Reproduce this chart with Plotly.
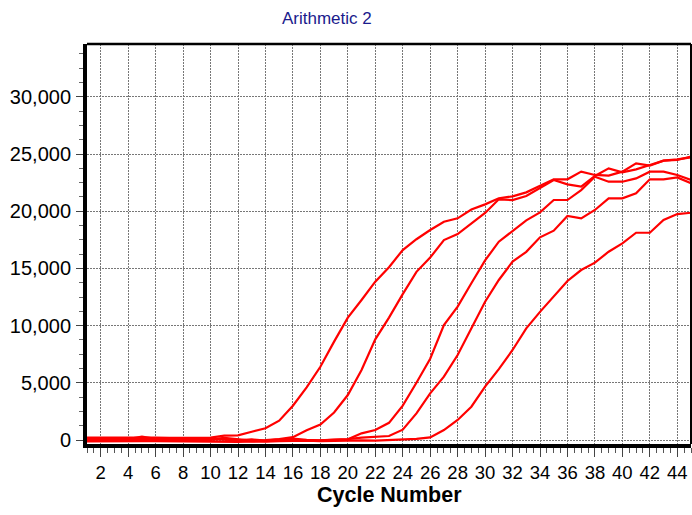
import plotly.graph_objects as go

cycles = list(range(1, 46))

curve_a = [220, 190, 200, 210, 230, 200, 190, 210, 220, 200,
           380, 400, 720, 1020, 1690, 3000, 4600, 6400, 8600, 10700,
           12240, 13840, 15100, 16610, 17550, 18360, 19080, 19380, 20150, 20600,
           21130, 21300, 21650, 22200, 22790, 22790, 23460, 23170, 23110, 23460,
           24190, 23980, 24420, 24480, 24770]
curve_b = [60, 40, 50, 90, 300, 110, 50, 40, 30, 50,
           180, 60, -50, 0, 80, 250, 850, 1350, 2400, 3930,
           6120, 8800, 10700, 12750, 14700, 15950, 17480, 18000, 18940, 19850,
           21040, 20980, 21330, 22000, 22730, 22350, 22150, 23080, 23750, 23400,
           23660, 24040, 24420, 24530, 24710]
curve_c = [-20, 0, 10, -10, 30, 0, -30, -10, 0, 10,
           100, -100, -150, -100, -50, 0, -80, -20, 0, 60,
           580, 870, 1500, 3000, 5000, 7100, 10050, 11660, 13700, 15700,
           17340, 18300, 19200, 19900, 20980, 20980, 21850, 23020, 22580, 22580,
           22870, 23460, 23460, 23170, 22730]
curve_d = [120, 110, 130, 120, 140, 110, 100, 120, 130, 110,
           40, -30, 50, -60, 50, 120, 20, -20, 40, 80,
           200, 250, 350, 900, 2330, 4080, 5540, 7430, 9760, 12090,
           13990, 15590, 16450, 17720, 18300, 19580, 19380, 20110, 21130, 21130,
           21560, 22790, 22790, 22960, 22440]
curve_e = [-130, -110, -120, -100, -90, -110, -120, -100, -110, -130,
           -120, -160, -90, -140, -110, -80, -60, -90, -70, -20,
           -40, -60, 0, 20, 100, 230, 870, 1750, 2910, 4660,
           6200, 7870, 9760, 11200, 12600, 13900, 14860, 15500, 16460, 17190,
           18120, 18120, 19230, 19750, 19870]

series = [curve_a, curve_b, curve_c, curve_d, curve_e]

title_text = "Arithmetic 2"
x_title = "Cycle Number"

FONT = "Liberation Sans, Arial, sans-serif"

fig = go.Figure()
for s in series:
    fig.add_trace(go.Scatter(x=cycles, y=s, mode="lines",
                             line=dict(color="#ff0000", width=2.2),
                             hoverinfo="skip", showlegend=False))

grid_dash = "1.5px,1.5px"
grid_color = "#777777"

fig.update_layout(
    width=692, height=515,
    margin=dict(l=87, r=1, t=44, b=71),
    paper_bgcolor="white", plot_bgcolor="white",
    font=dict(family=FONT, color="black"),
    xaxis=dict(
        range=[1, 45], tickmode="linear", tick0=0, dtick=2,
        ticks="outside", ticklen=9, tickwidth=1, tickcolor="#444",
        tickfont=dict(size=18.5, family=FONT, color="black"),
        showgrid=True, gridcolor=grid_color, gridwidth=1, griddash=grid_dash,
        showline=True, linecolor="black", linewidth=4,
        zeroline=False,
        minor=dict(dtick=0.5, tick0=0, ticks="outside", ticklen=5,
                   tickcolor="#555", tickwidth=1, showgrid=False),
    ),
    yaxis=dict(
        range=[-350, 34620], tickmode="linear", tick0=0, dtick=5000,
        tickformat=",d",
        ticks="outside", ticklen=7, tickwidth=1, tickcolor="#444",
        tickfont=dict(size=20, family=FONT, color="black"),
        ticklabelstandoff=1,
        showgrid=True, gridcolor=grid_color, gridwidth=1, griddash=grid_dash,
        showline=True, linecolor="black", linewidth=4,
        zeroline=False,
        minor=dict(dtick=1250, tick0=0, ticks="outside", ticklen=4,
                   tickcolor="#666", tickwidth=1, showgrid=False),
    ),
    shapes=[
        dict(type="line", xref="paper", yref="paper", x0=0, x1=1, y0=1, y1=1,
             line=dict(color="black", width=2.5)),
        dict(type="line", xref="paper", yref="paper", x0=1, x1=1, y0=0, y1=1,
             line=dict(color="black", width=2)),
    ],
    annotations=[
        dict(text=title_text, xref="paper", yref="paper",
             x=(327 - 87) / 604, y=(444 - 18) / 400,
             xanchor="center", yanchor="middle", showarrow=False,
             font=dict(size=17, color="#1a1a8c", family=FONT)),
        dict(text="<b>" + x_title + "</b>", xref="paper", yref="paper",
             x=0.5, y=(444 - 495) / 400,
             xanchor="center", yanchor="middle", showarrow=False,
             font=dict(size=21.5, color="black", family=FONT)),
    ],
)

fig.write_html("out.html")
